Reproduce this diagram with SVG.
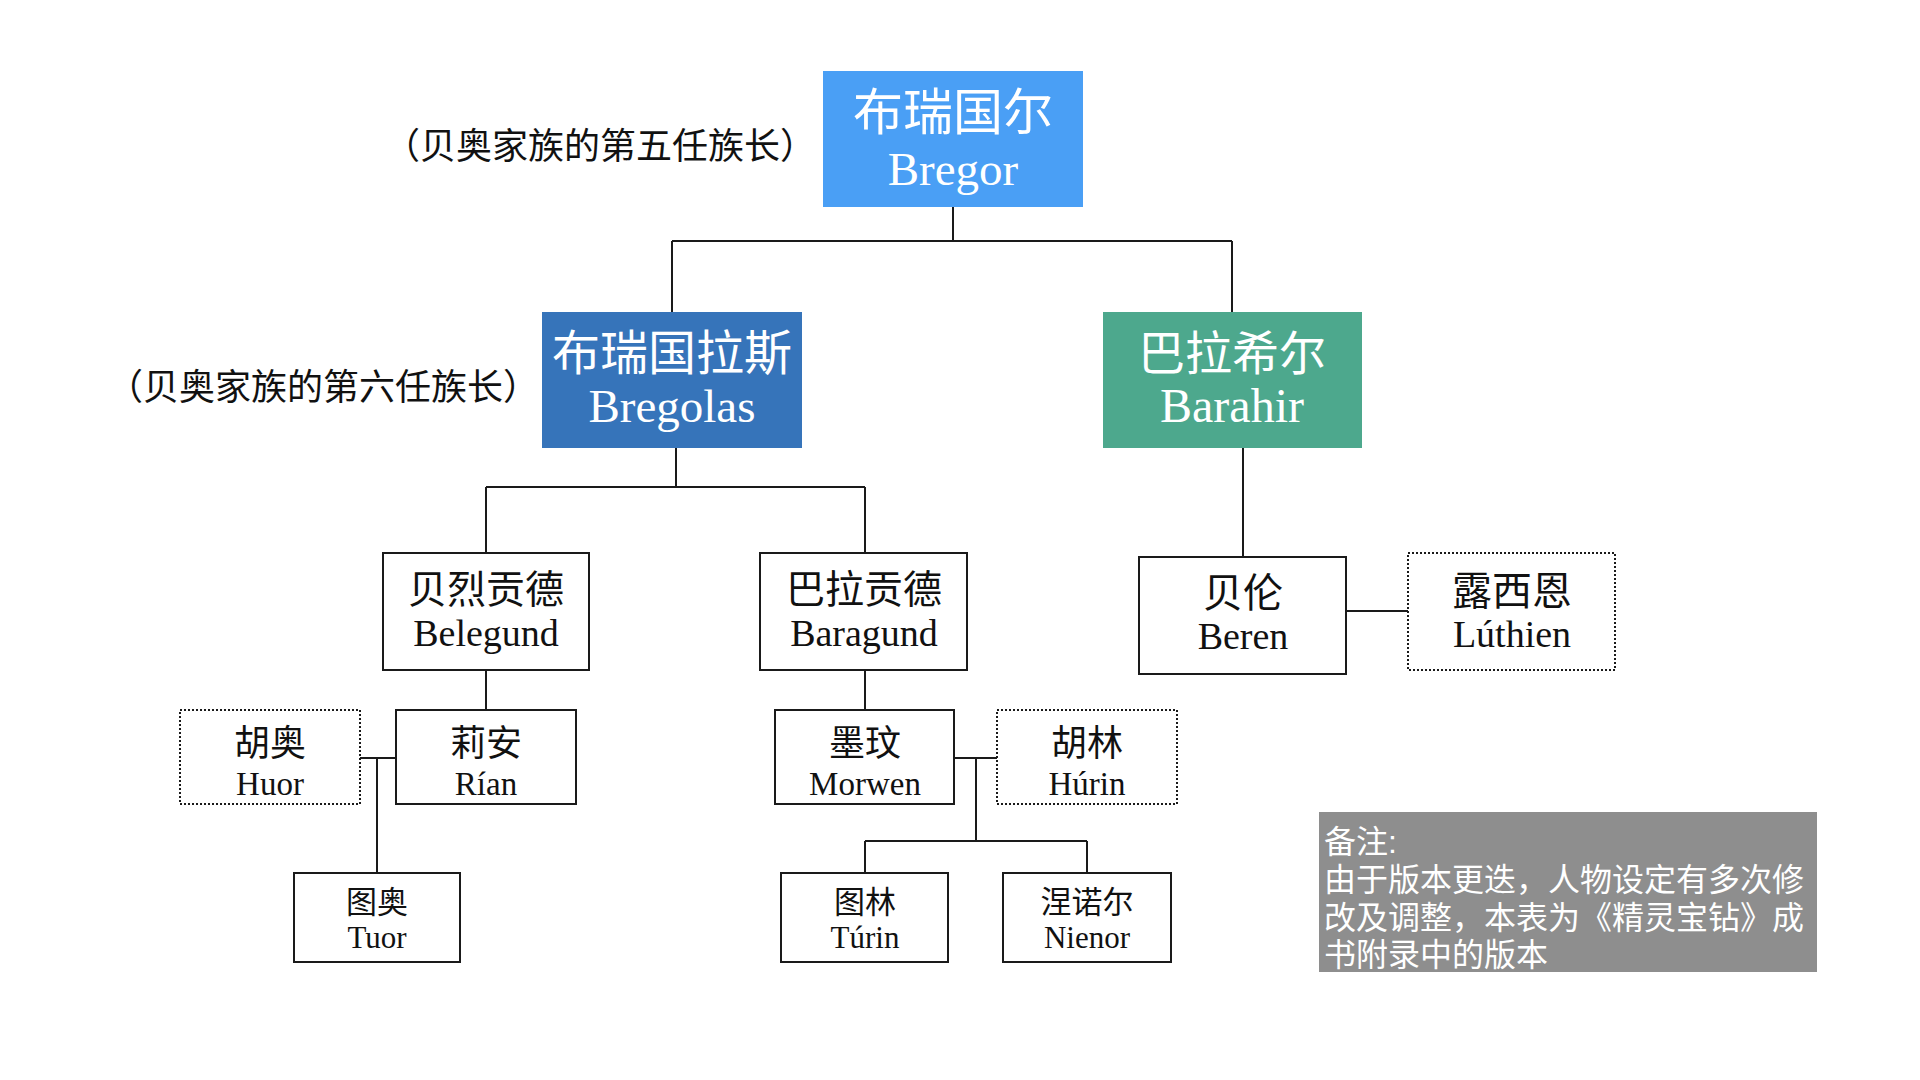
<svg xmlns="http://www.w3.org/2000/svg" width="1920" height="1080" viewBox="0 0 1920 1080">
<style>
.zh{font-family:"Liberation Sans","Noto Sans CJK SC",sans-serif;text-anchor:middle}
.la{font-family:"Liberation Serif","DejaVu Serif",serif;text-anchor:middle}
.w{fill:#ffffff}
.k{fill:#111111}
.box{fill:#ffffff;stroke:#1a1a1a;stroke-width:2}
.dot{fill:#ffffff;stroke:#1a1a1a;stroke-width:2;stroke-dasharray:2 2}
.ln{fill:none;stroke:#1a1a1a;stroke-width:2}
</style>
<rect width="1920" height="1080" fill="#ffffff"/>
<g id="connectors">
<path class="ln" d="M953 207V241M672 241H1232M672 241V312M1232 241V312"/>
<path class="ln" d="M676 448V487M486 487H865M486 487V553M865 487V553"/>
<path class="ln" d="M1243 448V557M1346 611H1408"/>
<path class="ln" d="M486 670V710M360 758H396M377 758V873"/>
<path class="ln" d="M865 670V710M954 758H997M976 758V841M865 841H1087M865 841V873M1087 841V873"/>
</g>
<g id="label5"><text class="zh k" x="600" y="159" font-size="36">（贝奥家族的第五任族长）</text></g>
<g id="label6"><text class="zh k" x="323" y="400" font-size="36">（贝奥家族的第六任族长）</text></g>
<g id="bregor">
<rect x="823" y="71" width="260" height="136" fill="#4a9ff5"/>
<text class="zh w" x="953" y="130" font-size="50">布瑞国尔</text>
<text class="la w" x="953" y="185" font-size="47">Bregor</text>
</g>
<g id="bregolas">
<rect x="542" y="312" width="260" height="136" fill="#3674ba"/>
<text class="zh w" x="672" y="370" font-size="48">布瑞国拉斯</text>
<text class="la w" x="672" y="422" font-size="47">Bregolas</text>
</g>
<g id="barahir">
<rect x="1103" y="312" width="259" height="136" fill="#4da88d"/>
<text class="zh w" x="1232" y="370" font-size="47">巴拉希尔</text>
<text class="la w" x="1232" y="422" font-size="48">Barahir</text>
</g>
<g id="belegund">
<rect class="box" x="383" y="553" width="206" height="117"/>
<text class="zh k" x="486" y="603" font-size="39">贝烈贡德</text>
<text class="la k" x="486" y="646" font-size="38">Belegund</text>
</g>
<g id="baragund">
<rect class="box" x="760" y="553" width="207" height="117"/>
<text class="zh k" x="864" y="603" font-size="39">巴拉贡德</text>
<text class="la k" x="864" y="646" font-size="38">Baragund</text>
</g>
<g id="beren">
<rect class="box" x="1139" y="557" width="207" height="117"/>
<text class="zh k" x="1243" y="607" font-size="40">贝伦</text>
<text class="la k" x="1243" y="649" font-size="38">Beren</text>
</g>
<g id="luthien">
<rect class="dot" x="1408" y="553" width="207" height="117"/>
<text class="zh k" x="1512" y="605" font-size="40">露西恩</text>
<text class="la k" x="1512" y="647" font-size="38">Lúthien</text>
</g>
<g id="huor">
<rect class="dot" x="180" y="710" width="180" height="94"/>
<text class="zh k" x="270" y="756" font-size="36">胡奥</text>
<text class="la k" x="270" y="795" font-size="33">Huor</text>
</g>
<g id="rian">
<rect class="box" x="396" y="710" width="180" height="94"/>
<text class="zh k" x="486" y="756" font-size="36">莉安</text>
<text class="la k" x="486" y="795" font-size="33">Rían</text>
</g>
<g id="morwen">
<rect class="box" x="775" y="710" width="179" height="94"/>
<text class="zh k" x="865" y="756" font-size="36">墨玟</text>
<text class="la k" x="865" y="795" font-size="33">Morwen</text>
</g>
<g id="hurin">
<rect class="dot" x="997" y="710" width="180" height="94"/>
<text class="zh k" x="1087" y="756" font-size="36">胡林</text>
<text class="la k" x="1087" y="795" font-size="33">Húrin</text>
</g>
<g id="tuor">
<rect class="box" x="294" y="873" width="166" height="89"/>
<text class="zh k" x="377" y="913" font-size="31">图奥</text>
<text class="la k" x="377" y="948" font-size="31">Tuor</text>
</g>
<g id="turin">
<rect class="box" x="781" y="873" width="167" height="89"/>
<text class="zh k" x="865" y="913" font-size="31">图林</text>
<text class="la k" x="865" y="948" font-size="31">Túrin</text>
</g>
<g id="nienor">
<rect class="box" x="1003" y="873" width="168" height="89"/>
<text class="zh k" x="1087" y="913" font-size="31">涅诺尔</text>
<text class="la k" x="1087" y="948" font-size="31">Nienor</text>
</g>
<g id="note">
<rect x="1319" y="812" width="498" height="160" fill="#8e8e8e"/>
<text font-family="'Liberation Sans','Noto Sans CJK SC',sans-serif" font-size="32" fill="#ffffff">
<tspan x="1324" y="853">备注:</tspan>
<tspan x="1324" y="891">由于版本更迭，人物设定有多次修</tspan>
<tspan x="1324" y="929">改及调整，本表为《精灵宝钻》成</tspan>
<tspan x="1324" y="966">书附录中的版本</tspan>
</text>
</g>
</svg>
